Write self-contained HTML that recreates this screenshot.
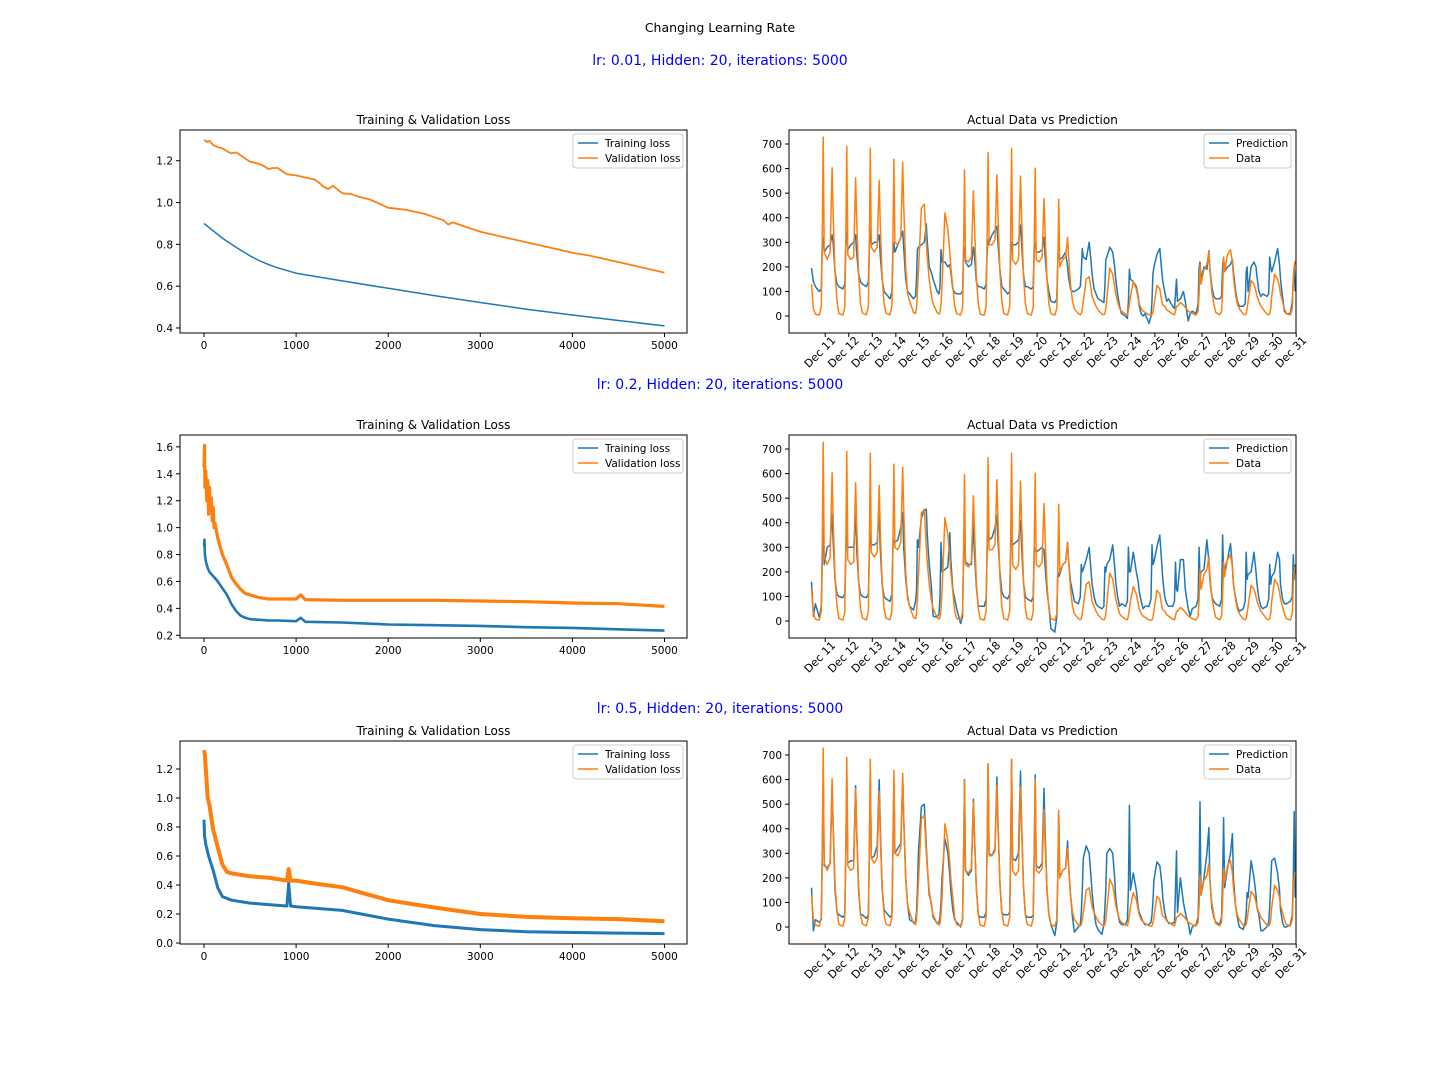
<!DOCTYPE html>
<html><head><meta charset="utf-8"><style>
html,body{margin:0;padding:0;background:#fff;}
svg{display:block;font-family:"DejaVu Sans","Liberation Sans",sans-serif;}
</style></head><body>
<svg id="fig" width="1440" height="1080" viewBox="0 0 1440 1080" xmlns="http://www.w3.org/2000/svg">
<rect width="1440" height="1080" fill="#fff"/>
<text x="720" y="32" text-anchor="middle" font-size="12.5" fill="#000">Changing Learning Rate</text>
</svg>
<script>
// ---------- loss data ----------
const r1TrainIt=[0,100,200,300,400,500,600,700,800,1000,1500,2000,2500,3000,3500,4000,4500,5000];
const r1TrainV=[0.90,0.865,0.83,0.80,0.772,0.745,0.722,0.703,0.688,0.662,0.625,0.59,0.555,0.522,0.49,0.462,0.436,0.41];
const r1ValIt=[0,30,60,100,150,200,250,300,350,400,450,500,550,600,650,700,750,800,850,900,1000,1100,1200,1250,1300,1350,1400,1500,1600,1700,1800,1900,2000,2100,2200,2400,2500,2600,2650,2700,2800,3000,3200,3500,3800,4000,4200,4500,5000];
const r1ValV=[1.30,1.29,1.295,1.275,1.265,1.26,1.245,1.235,1.24,1.225,1.21,1.195,1.19,1.185,1.175,1.16,1.165,1.165,1.15,1.135,1.13,1.12,1.11,1.095,1.075,1.065,1.08,1.045,1.04,1.025,1.015,0.995,0.975,0.97,0.965,0.945,0.93,0.915,0.895,0.905,0.89,0.86,0.84,0.81,0.78,0.76,0.745,0.715,0.665];
const r2TrainIt=[0,5,10,20,40,60,100,150,200,250,300,350,400,450,500,600,700,800,1000,1050,1100,1500,2000,2500,3000,3500,4000,4500,5000];
const r2TrainV=[0.86,0.91,0.80,0.75,0.70,0.67,0.64,0.60,0.55,0.50,0.43,0.38,0.345,0.33,0.32,0.315,0.31,0.31,0.305,0.33,0.30,0.295,0.28,0.275,0.27,0.26,0.255,0.245,0.235];
const r2ValIt=[0,5,10,20,30,40,50,60,70,80,90,100,110,120,150,200,250,300,350,400,450,500,600,700,800,1000,1050,1100,1500,2000,2500,3000,3500,4000,4500,5000];
const r2ValV=[1.45,1.61,1.30,1.42,1.20,1.35,1.10,1.30,1.12,1.22,1.05,1.15,1.00,1.03,0.92,0.80,0.72,0.63,0.58,0.54,0.51,0.50,0.48,0.47,0.47,0.47,0.50,0.465,0.46,0.46,0.46,0.455,0.45,0.44,0.435,0.415];
const r3TrainIt=[0,5,20,50,100,150,200,300,500,700,900,920,940,1000,1500,2000,2500,3000,3500,4000,4500,5000];
const r3TrainV=[0.85,0.74,0.68,0.60,0.50,0.38,0.32,0.295,0.275,0.265,0.255,0.41,0.255,0.25,0.225,0.165,0.12,0.092,0.078,0.072,0.068,0.065];
const r3ValIt=[0,10,20,40,60,80,100,150,200,250,300,500,700,900,920,940,1000,1200,1500,1800,2000,2300,2500,3000,3500,4000,4500,5000];
const r3ValV=[1.33,1.30,1.20,1.00,0.95,0.86,0.78,0.66,0.54,0.49,0.48,0.46,0.45,0.43,0.51,0.43,0.43,0.41,0.385,0.33,0.295,0.265,0.245,0.20,0.18,0.17,0.165,0.15];
const lossTicks=[0,1000,2000,3000,4000,5000];
const r1YTicks=[0.4,0.6,0.8,1.0,1.2];
const r2YTicks=[0.2,0.4,0.6,0.8,1.0,1.2,1.4,1.6];
const r3YTicks=[0.0,0.2,0.4,0.6,0.8,1.0,1.2];

// ---------- time-series data (values at hours of each day) ----------
const dayHours=[0,4,6,7,8,9,12,15,17,18,20,22];
const dayLabels=["Dec 11","Dec 12","Dec 13","Dec 14","Dec 15","Dec 16","Dec 17","Dec 18","Dec 19","Dec 20","Dec 21","Dec 22","Dec 23","Dec 24","Dec 25","Dec 26","Dec 27","Dec 28","Dec 29","Dec 30","Dec 31"];
const N=null;
const actualData=[
[N,N,N,N,N,N,N,N,N,N,130,30],
[8,4,40,330,728,260,230,260,603,420,180,60],
[10,4,35,300,690,250,230,240,563,400,170,50],
[12,5,40,320,683,280,260,280,552,380,160,50],
[12,5,40,300,638,300,290,320,625,450,200,90],
[60,15,10,30,90,180,440,455,300,240,150,90],
[50,15,8,15,50,120,420,350,260,200,120,40],
[10,4,35,280,595,230,220,240,510,380,160,50],
[8,4,40,320,665,290,290,310,575,420,180,60],
[10,4,40,330,682,230,210,230,570,420,170,50],
[10,4,35,290,602,230,220,240,478,350,150,50],
[10,4,30,220,475,200,230,240,320,250,130,60],
[30,10,5,10,30,60,150,160,110,80,60,40],
[25,8,5,10,30,70,195,170,120,90,60,30],
[20,8,5,20,50,80,140,110,70,50,30,20],
[15,5,3,5,15,40,125,110,60,45,40,25],
[20,8,5,20,40,40,55,45,35,30,20,15],
[10,4,20,90,210,130,190,210,260,190,100,50],
[15,5,20,100,240,180,250,270,220,160,90,50],
[30,8,5,10,30,60,145,130,100,80,60,40],
[30,8,5,10,30,80,170,150,120,90,60,30],
[10,4,30,150,200,225,N,N,N,N,N,N]];
const pred1=[
[N,N,N,N,N,N,N,N,N,N,195,140],
[120,100,110,300,320,260,280,290,330,300,180,130],
[120,110,130,290,345,270,290,300,330,260,170,140],
[130,120,140,280,350,290,300,300,330,250,150,100],
[90,70,100,250,300,260,290,320,345,280,150,100],
[90,70,80,150,270,280,290,300,375,300,200,180],
[150,100,90,120,270,220,220,200,210,180,110,95],
[90,90,100,270,280,220,200,210,280,250,140,120],
[120,110,130,260,310,300,330,350,365,300,190,120],
[110,90,100,250,300,290,290,300,370,300,170,120],
[120,110,120,280,300,260,260,270,320,250,150,100],
[60,55,70,230,250,230,240,260,200,160,110,100],
[100,110,120,180,275,240,230,300,220,170,110,90],
[70,60,55,120,230,240,280,260,200,150,90,40],
[10,0,-10,60,190,150,140,120,80,40,10,0],
[10,-30,0,60,170,200,250,275,180,140,100,60],
[70,40,30,90,150,60,70,100,60,30,-20,10],
[20,10,50,200,220,150,200,190,265,200,120,80],
[70,70,80,200,240,180,200,210,230,180,110,60],
[40,40,50,180,200,100,200,220,200,160,100,80],
[90,80,90,240,200,180,220,275,210,150,80,20],
[10,10,60,150,200,100,N,N,N,N,N,N]];
const pred2=[
[N,N,N,N,N,N,N,N,N,N,160,20],
[70,15,60,250,400,230,300,310,435,330,170,110],
[100,95,110,270,370,300,300,300,440,300,160,110],
[100,95,110,290,360,310,310,320,450,300,150,100],
[90,80,110,300,330,320,330,380,440,300,170,100],
[60,45,80,120,330,300,420,450,455,350,230,150],
[20,15,30,100,320,200,210,220,360,250,130,90],
[50,-10,20,280,400,240,230,230,400,280,140,60],
[60,60,90,280,380,330,340,380,430,330,200,120],
[100,90,110,300,340,310,320,330,410,310,160,100],
[90,80,100,300,290,280,290,300,290,230,120,60],
[-30,-45,20,200,180,190,230,240,320,250,160,120],
[80,70,100,230,200,210,250,300,200,150,100,70],
[60,50,60,220,200,230,250,310,220,160,100,60],
[70,60,80,300,200,200,280,200,160,120,80,50],
[60,60,90,310,230,240,300,350,230,170,100,70],
[60,60,80,240,130,120,250,250,130,100,50,20],
[50,60,90,300,170,200,210,330,240,170,100,80],
[70,60,90,350,200,210,250,315,220,150,100,60],
[40,50,80,280,170,190,200,280,200,150,90,60],
[50,60,90,230,150,180,200,280,250,150,90,70],
[70,80,100,270,170,230,N,N,N,N,N,N]];
const pred3=[
[N,N,N,N,N,N,N,N,N,N,160,-15],
[30,20,30,300,600,250,240,260,580,420,150,60],
[50,40,50,300,620,260,270,270,575,400,150,50],
[50,35,50,330,630,280,290,330,600,420,160,70],
[60,40,50,320,600,300,320,340,600,440,200,90],
[30,20,20,60,150,300,490,500,330,250,130,100],
[40,15,20,40,100,200,360,300,210,150,70,30],
[20,0,30,300,600,230,210,230,520,380,160,50],
[40,40,60,320,660,300,290,320,610,440,180,60],
[50,50,60,330,680,280,270,300,635,440,170,50],
[40,40,50,300,620,250,240,260,565,400,150,50],
[10,-35,20,200,470,200,230,240,350,260,130,40],
[-20,0,10,60,150,280,330,300,200,140,60,10],
[-10,-30,10,80,150,300,320,300,200,120,60,20],
[10,10,30,150,495,150,220,150,80,60,40,20],
[10,10,20,50,100,190,265,250,180,120,60,30],
[15,15,20,150,310,60,200,100,60,40,15,-30],
[0,10,40,200,510,130,200,300,405,200,80,40],
[20,10,40,200,445,160,240,300,380,200,90,40],
[0,-10,20,60,140,120,270,200,130,80,50,-15],
[-15,0,20,80,180,270,280,220,150,70,20,0],
[0,10,50,200,470,120,N,N,N,N,N,N]];
const tsYTicks=[0,100,200,300,400,500,600,700];

// ---------- drawing ----------
const NS="http://www.w3.org/2000/svg";
const svg=document.getElementById('fig');
const BLUE="#1f77b4",ORANGE="#ff7f0e";
function el(tag,attrs,parent,txt){const e=document.createElementNS(NS,tag);for(const k in attrs)e.setAttribute(k,attrs[k]);if(txt!==undefined)e.textContent=txt;(parent||svg).appendChild(e);return e;}

function frame(g,L,T,R,B){
  const f=el('rect',{x:L,y:T,width:R-L,height:B-T,fill:'none',stroke:'#000','stroke-width':1},g);
  
  
}
function legend(g,x,y,w,labels){
  const lg=el('g',{},g);
  
  
  el('rect',{x:x,y:y,width:w,height:34,rx:3,fill:'#fff','fill-opacity':0.8,stroke:'#ccc'},lg);
  labels.forEach((lb,i)=>{
    const ent=el('g',{},lg);
    
    
    el('line',{x1:x+5,x2:x+25,y1:y+9+i*15,y2:y+9+i*15,stroke:lb.c,'stroke-width':1.6},ent);
    el('text',{x:x+32,y:y+13+i*15,'font-size':10.5},ent,lb.t);
  });
}

function lossChart(name,T,ymin,ymax,yticks,series){
  const L=180,R=687,B=T+203;
  const g=el('g',{});
  
  
  const xs=v=>204+v*(664.5-204)/5000;
  const ys=v=>B-(v-ymin)/(ymax-ymin)*(B-T);
  el('text',{x:(L+R)/2,y:T-6,'text-anchor':'middle','font-size':12},g,'Training & Validation Loss');
  series.forEach(s=>{
    const d=s.it.map((it,i)=>(i?'L':'M')+xs(it).toFixed(1)+','+ys(s.v[i]).toFixed(1)).join('');
    const p=el('path',{d:d,fill:'none',stroke:s.c,'stroke-width':s.w,'stroke-linejoin':'round'},g);
    
    
  });
  frame(g,L,T,R,B);
  lossTicks.forEach(t=>{
    el('line',{x1:xs(t),x2:xs(t),y1:B,y2:B+4,stroke:'#000'},g);
    el('text',{x:xs(t),y:B+16,'text-anchor':'middle','font-size':10.5},g,String(t));
  });
  yticks.forEach(t=>{
    el('line',{x1:L-4,x2:L,y1:ys(t),y2:ys(t),stroke:'#000'},g);
    el('text',{x:L-7,y:ys(t)+4,'text-anchor':'end','font-size':10.5},g,t.toFixed(1));
  });
  legend(g,573,T+4,110,[{t:'Training loss',c:BLUE},{t:'Validation loss',c:ORANGE}]);
}

function tsChart(name,T,pred){
  const L=789,R=1296,B=T+203;
  const g=el('g',{});
  
  
  const tick0=825.2,sp=23.55;
  const xs=(day,h)=>tick0+(day-1)*sp+(h-10)/24*sp;
  const ymin=-69,ymax=757;
  const ys=v=>B-(v-ymin)/(ymax-ymin)*(B-T);
  el('text',{x:(L+R)/2,y:T-6,'text-anchor':'middle','font-size':12},g,'Actual Data vs Prediction');
  const cp=el('clipPath',{id:'c'+name},g);
  el('rect',{x:L,y:T,width:R-L,height:B-T},cp);
  function path(arr,c,n){
    let d='';
    arr.forEach((row,day)=>row.forEach((v,i)=>{ if(v===null)return; d+=(d?'L':'M')+xs(day,dayHours[i]).toFixed(1)+','+ys(v).toFixed(1);}));
    const p=el('path',{d:d,fill:'none',stroke:c,'stroke-width':1.5,'stroke-linejoin':'round','clip-path':'url(#c'+name+')'},g);
    
    
  }
  path(pred,BLUE,'prediction-line');
  path(actualData,ORANGE,'data-line');
  frame(g,L,T,R,B);
  dayLabels.forEach((lb,i)=>{
    const x=tick0+i*sp;
    el('line',{x1:x,x2:x,y1:B,y2:B+4,stroke:'#000'},g);
    const ax=x+11, ay=B+8;
    el('text',{x:ax,y:ay,'text-anchor':'end','font-size':11,transform:'rotate(-45 '+ax+' '+ay+')'},g,lb);
  });
  tsYTicks.forEach(t=>{
    el('line',{x1:L-4,x2:L,y1:ys(t),y2:ys(t),stroke:'#000'},g);
    el('text',{x:L-7,y:ys(t)+4,'text-anchor':'end','font-size':10.5},g,String(t));
  });
  legend(g,1204,T+4,87,[{t:'Prediction',c:BLUE},{t:'Data',c:ORANGE}]);
}

const subs=[[65,'lr: 0.01, Hidden: 20, iterations: 5000'],[389,'lr: 0.2, Hidden: 20, iterations: 5000'],[713,'lr: 0.5, Hidden: 20, iterations: 5000']];
subs.forEach((s,i)=>{
  const t=el('text',{x:720,y:s[0],'text-anchor':'middle','font-size':14,fill:'#0000ff'},svg,s[1]);
  
  
});

lossChart('loss-chart-lr-0.01',130,0.376,1.347,r1YTicks,[
  {it:r1TrainIt,v:r1TrainV,c:BLUE,w:1.5,n:'training-loss-line'},
  {it:r1ValIt,v:r1ValV,c:ORANGE,w:1.8,n:'validation-loss-line'}]);
lossChart('loss-chart-lr-0.2',435,0.18,1.688,r2YTicks,[
  {it:r2TrainIt,v:r2TrainV,c:BLUE,w:2.6,n:'training-loss-line'},
  {it:r2ValIt,v:r2ValV,c:ORANGE,w:3.2,n:'validation-loss-line'}]);
lossChart('loss-chart-lr-0.5',741,-0.007,1.393,r3YTicks,[
  {it:r3TrainIt,v:r3TrainV,c:BLUE,w:3,n:'training-loss-line'},
  {it:r3ValIt,v:r3ValV,c:ORANGE,w:4,n:'validation-loss-line'}]);

tsChart('prediction-chart-lr-0.01',130,pred1);
tsChart('prediction-chart-lr-0.2',435,pred2);
tsChart('prediction-chart-lr-0.5',741,pred3);
</script>
</body></html>
